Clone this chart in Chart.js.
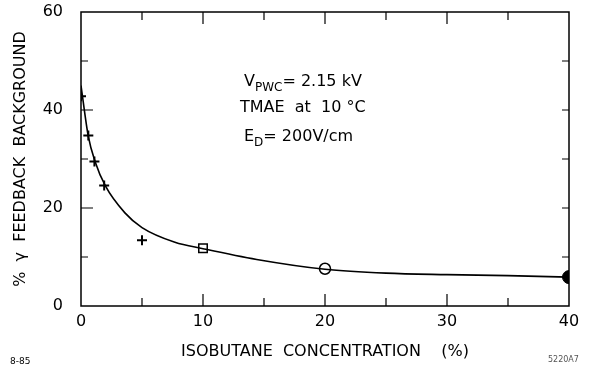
<!DOCTYPE html>
<html>
<head>
<meta charset="utf-8">
<script src="https://cdn.jsdelivr.net/npm/chart.js@4.4.0/dist/chart.umd.min.js"></script>
<style>
  html, body { margin: 0; padding: 0; background: #fff; }
  #wrap { width: 589px; height: 374px; }
</style>
</head>
<body>
<div id="wrap"><canvas id="chart" width="589" height="374"></canvas></div>
<script>
// Fitted curve
const curveX = [0, 0.6, 1.15, 2, 3.6, 5, 7.7, 10, 14.4, 20, 25, 30, 35, 40];
const curveY = [45, 34.6, 29.5, 24.5, 19, 16, 13, 11.7, 9.5, 7.5, 6.7, 6.4, 6.2, 5.9];

// Measured points
const crossX = [0, 0.6, 1.1, 1.9, 5];
const crossY = [42.8, 34.8, 29.5, 24.6, 13.4];
const squareX = [10];
const squareY = [11.8];
const openX = [20];
const openY = [7.6];
const filledX = [40];
const filledY = [5.9];

// Axis ticks
const xTicks = [0, 10, 20, 30, 40];
const yTicks = [0, 20, 40, 60];
const xMinor = [5, 10, 15, 20, 25, 30, 35];
const yMinor = [10, 20, 30, 40, 50];

function toPoints(xs, ys) {
    return xs.map((x, i) => ({ x: x, y: ys[i] }));
}

Chart.defaults.font.family = "'DejaVu Sans', sans-serif";
Chart.defaults.color = '#000';

// Box frame plus inward ticks
const frameTicks = {
    id: 'frameTicks',
    afterDraw(chart) {
        const ctx = chart.ctx;
        const a = chart.chartArea;
        const xs = chart.scales.x;
        const ys = chart.scales.y;
        ctx.save();
        ctx.strokeStyle = '#000';
        ctx.lineWidth = 1.5;
        ctx.strokeRect(a.left, a.top, a.right - a.left, a.bottom - a.top);
        ctx.lineWidth = 1.2;
        ctx.beginPath();
        xMinor.forEach(v => {
            const px = xs.getPixelForValue(v);
            const len = v % 10 === 0 ? 12 : 8;
            ctx.moveTo(px, a.bottom);
            ctx.lineTo(px, a.bottom - len);
            ctx.moveTo(px, a.top);
            ctx.lineTo(px, a.top + len);
        });
        yMinor.forEach(v => {
            const py = ys.getPixelForValue(v);
            const len = v % 20 === 0 ? 12 : 7;
            ctx.moveTo(a.left, py);
            ctx.lineTo(a.left + len, py);
            ctx.moveTo(a.right, py);
            ctx.lineTo(a.right - 7, py);
        });
        ctx.stroke();
        ctx.restore();
    }
};

// Condition text and small figure codes
const notes = {
    id: 'notes',
    afterDraw(chart) {
        const ctx = chart.ctx;
        ctx.save();
        ctx.fillStyle = '#000';
        ctx.textBaseline = 'alphabetic';
        const big = "16px 'DejaVu Sans', sans-serif";
        const small = "12px 'DejaVu Sans', sans-serif";

        function run(parts, x, y) {
            parts.forEach(p => {
                ctx.font = p.sub ? small : big;
                ctx.fillText(p.t, x, y + (p.sub ? 5 : 0));
                x += ctx.measureText(p.t).width;
            });
        }
        run([{ t: 'V' }, { t: 'PWC', sub: true }, { t: '= 2.15 kV' }], 244, 86);
        run([{ t: 'TMAE  at  10 °C' }], 240, 112);
        run([{ t: 'E' }, { t: 'D', sub: true }, { t: '= 200V/cm' }], 244, 141);

        ctx.font = "9px 'DejaVu Sans', sans-serif";
        ctx.fillText('8-85', 10, 364);
        ctx.fillStyle = '#555';
        ctx.font = "8px 'DejaVu Sans', sans-serif";
        ctx.fillText('5220A7', 548, 362);
        ctx.restore();
    }
};

new Chart(document.getElementById('chart'), {
    type: 'scatter',
    data: {
        datasets: [
            {
                type: 'line',
                data: toPoints(curveX, curveY),
                borderColor: '#000',
                borderWidth: 1.6,
                pointRadius: 0,
                cubicInterpolationMode: 'monotone',
                fill: false
            },
            {
                data: toPoints(crossX, crossY),
                pointStyle: 'cross',
                pointRadius: 5,
                borderColor: '#000',
                borderWidth: 2
            },
            {
                data: toPoints(squareX, squareY),
                pointStyle: 'rect',
                pointRadius: 6,
                borderColor: '#000',
                backgroundColor: '#fff',
                borderWidth: 1.5
            },
            {
                data: toPoints(openX, openY),
                pointStyle: 'circle',
                pointRadius: 5.5,
                borderColor: '#000',
                backgroundColor: '#fff',
                borderWidth: 1.5
            },
            {
                data: toPoints(filledX, filledY),
                pointStyle: 'circle',
                pointRadius: 6.5,
                borderColor: '#000',
                backgroundColor: '#000',
                borderWidth: 1
            }
        ]
    },
    options: {
        responsive: false,
        animation: false,
        layout: { padding: { top: 12, right: 20 } },
        plugins: {
            legend: { display: false },
            tooltip: { enabled: false }
        },
        scales: {
            x: {
                type: 'linear',
                min: 0,
                max: 40,
                afterBuildTicks: s => { s.ticks = xTicks.map(v => ({ value: v })); },
                afterFit: s => { s.height = 68; },
                grid: { display: false, drawTicks: false },
                border: { display: false },
                ticks: { padding: 6, font: { size: 16 } },
                title: {
                    display: true,
                    text: 'ISOBUTANE  CONCENTRATION    (%)',
                    font: { size: 16 },
                    padding: { top: 13, bottom: 13 }
                }
            },
            y: {
                type: 'linear',
                min: 0,
                max: 60,
                afterBuildTicks: s => { s.ticks = yTicks.map(v => ({ value: v })); },
                afterFit: s => { s.width = 81; s.paddingTop = 0; s.paddingBottom = 0; },
                grid: { display: false, drawTicks: false },
                border: { display: false },
                ticks: { padding: 18, font: { size: 16 } },
                title: {
                    display: true,
                    text: '%  γ  FEEDBACK  BACKGROUND',
                    font: { size: 16 },
                    padding: { top: 11, bottom: 11 }
                }
            }
        }
    },
    plugins: [frameTicks, notes]
});
</script>
</body>
</html>
